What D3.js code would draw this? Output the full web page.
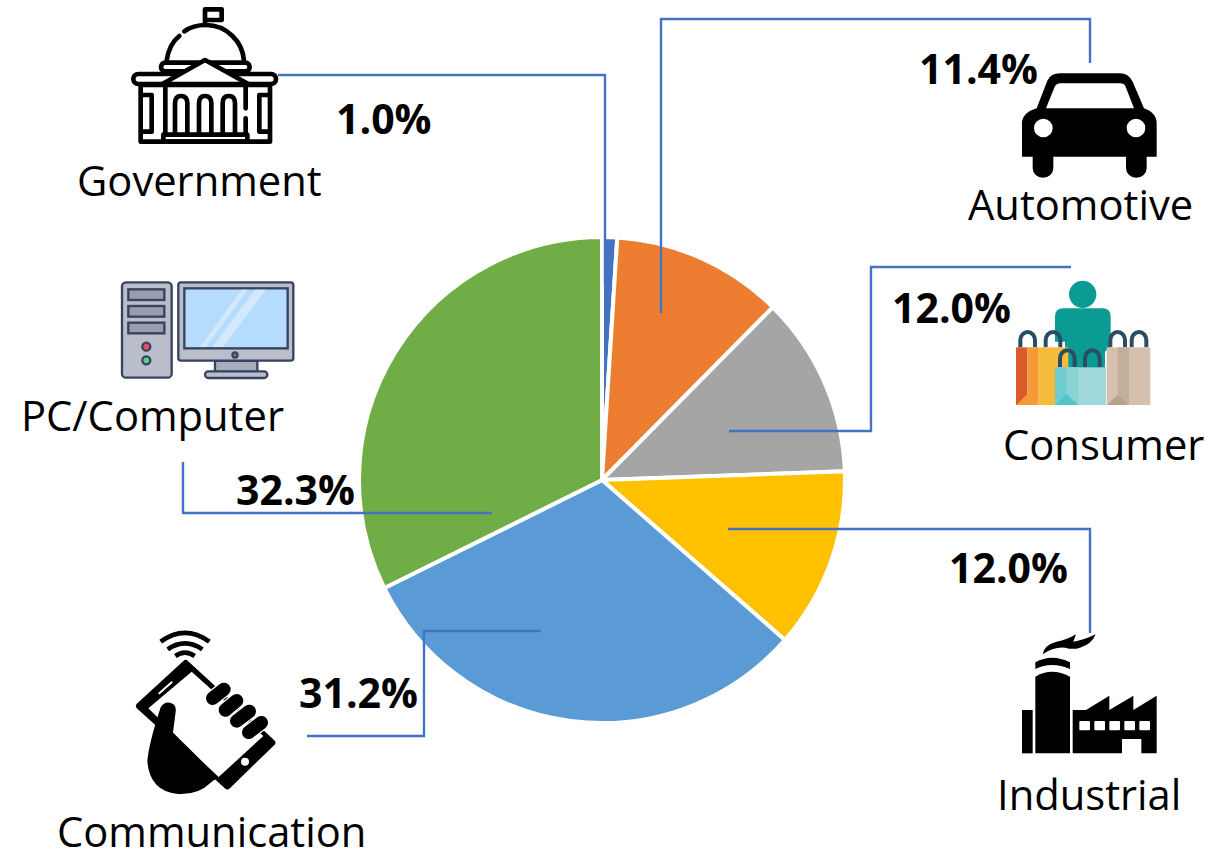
<!DOCTYPE html>
<html><head><meta charset="utf-8">
<script src="https://cdn.jsdelivr.net/npm/d3@7"></script>
<style>html,body{margin:0;background:#fff}svg{display:block}text{font-family:"Open Sans",sans-serif;fill:#000}</style>
</head><body><svg id="c" width="1222" height="852"></svg>
<script>
const categories=["Government","Automotive","Consumer","Industrial","Communication","PC/Computer"];
const shares=[1.0,11.4,12.0,12.0,31.2,32.3];
const shareLabels=["1.0%","11.4%","12.0%","12.0%","31.2%","32.3%"];
const colours=["#4472c4","#ed7d31","#a5a5a5","#ffc000","#5b9bd5","#70ad47"];
const nameAt=[[77,196],[968,220],[1003,460],[997,810],[57,847],[21,431]];
const shareAt=[[336,134],[919,84],[892,323],[949,583],[299,708],[236,505]];
const leaders=[
 [[278,75],[605,75],[605,285]],
 [[661,313],[661,19],[1090,19],[1090,63]],
 [[729,431],[871,431],[871,267],[1071,267]],
 [[728,529],[1090,529],[1090,633]],
 [[541,631],[424,631],[424,736],[307,736]],
 [[492,513],[183,513],[183,462]]];
const svg=d3.select("#c");
const pie=d3.pie().sort(null).value(d=>d)(shares);
const arc=d3.arc().innerRadius(0).outerRadius(243);
svg.append("g").attr("transform","translate(602,480)").selectAll("path").data(pie).join("path")
 .attr("d",arc).attr("fill",(d,i)=>colours[i]).attr("stroke","#fff").attr("stroke-width",4).attr("stroke-linejoin","round");
const line=d3.line();
svg.append("g").selectAll("path").data(leaders).join("path").attr("d",line).attr("fill","none").attr("stroke","#4472c4").attr("stroke-width",2.4);
svg.append("g").selectAll("text").data(categories).join("text").text(d=>d)
 .attr("x",(d,i)=>nameAt[i][0]).attr("y",(d,i)=>nameAt[i][1]).attr("font-size",41.7);
svg.append("g").selectAll("text").data(shareLabels).join("text").text(d=>d)
 .attr("x",(d,i)=>shareAt[i][0]).attr("y",(d,i)=>shareAt[i][1]).attr("font-size",41).attr("font-weight",700);

function icon(x,y){return svg.append("g").attr("transform",`translate(${x},${y}) scale(${1/3})`);}
function add(g,tag,attrs){const e=g.append(tag);Object.entries(attrs).forEach(([k,v])=>e.attr(k,v));return e;}
// Government
{const g=icon(100,0);const s={fill:"none",stroke:"#000","stroke-width":14,"stroke-linecap":"round","stroke-linejoin":"round"};
 add(g,"path",{...s,d:"M315 75V28H365V60H318"});
 add(g,"path",{...s,d:"M200 182C205 145 220 122 238 108M253 94C275 78 300 75 318 75C380 75 428 125 432 182"});
 add(g,"rect",{...s,x:183,y:188,width:266,height:26,rx:13,fill:"#fff"});
 add(g,"rect",{...s,x:100,y:222,width:428,height:30,rx:15,fill:"#fff"});
 add(g,"rect",{...s,x:122,y:255,width:388,height:170,fill:"#fff"});
 add(g,"path",{...s,d:"M187 252L315 180L445 252Z",fill:"#fff"});
 add(g,"path",{...s,d:"M196 258V405M437 258V325M437 355V405"});
 add(g,"path",{...s,d:"M125 285H155V395H125M507 285H478V395H507"});
 ["M225 400V310Q225 288 243 288Q262 288 262 310V400","M297 400V310Q297 288 315 288Q334 288 334 310V400","M368 400V310Q368 288 386 288Q405 288 405 310V400"].forEach(d=>add(g,"path",{...s,d}));
 add(g,"path",{...s,d:"M190 404H442V425H190Z"});}
// PC
{const g=icon(100,270),st="#37435f";const s={stroke:st,"stroke-width":7};
 add(g,"rect",{...s,x:66,y:37,width:149,height:286,rx:12,fill:"#babdca"});
 [58,108,158].forEach(y=>add(g,"rect",{...s,x:85,y,width:108,height:32,fill:"#9a9dae"}));
 add(g,"circle",{...s,cx:139,cy:230,r:12,fill:"#ef4a5a"});
 add(g,"circle",{...s,cx:139,cy:271,r:12,fill:"#5fd08c"});
 add(g,"rect",{...s,x:345,y:272,width:127,height:34,fill:"#a9acbc"});
 add(g,"rect",{...s,x:315,y:304,width:187,height:20,rx:10,fill:"#babdca"});
 add(g,"rect",{...s,x:235,y:37,width:345,height:235,rx:8,fill:"#babdca"});
 add(g,"rect",{...s,x:253,y:55,width:310,height:180,fill:"#b5dcfd"});
 add(g,"path",{d:"M425 59H443L318 231H300Z",fill:"#d2e9fd"});
 add(g,"path",{d:"M465 59H498L370 231H337Z",fill:"#d2e9fd"});
 add(g,"circle",{cx:405,cy:255,r:8,fill:"#6b7288",stroke:st,"stroke-width":6});}
// Communication
{const g=icon(120,620);
 add(g,"path",{d:"M197 130L456 368L322 498L58 258Z",fill:"#000",stroke:"#000","stroke-width":20,"stroke-linejoin":"round"});
 add(g,"path",{d:"M215 155L430 348L295 472L85 265Z",fill:"#fff"});
 add(g,"path",{d:"M118 220L155 187",stroke:"#fff","stroke-width":6,"stroke-linecap":"round"});
 add(g,"circle",{cx:375,cy:425,r:12,fill:"#fff"});
 [[278,235,312,208],[316,270,350,242],[350,303,388,274],[386,337,424,308]].forEach(([a,b,c,d])=>{
  add(g,"line",{x1:a,y1:b,x2:c,y2:d,stroke:"#fff","stroke-width":48,"stroke-linecap":"round"});
 });
 [[278,235,312,208],[316,270,350,242],[350,303,388,274],[386,337,424,308]].forEach(([a,b,c,d])=>{
  add(g,"line",{x1:a,y1:b,x2:c,y2:d,stroke:"#000","stroke-width":40,"stroke-linecap":"round"});});
 add(g,"path",{d:"M122 262Q132 245 150 248Q170 252 167 275L158 345L295 470L270 490Q235 525 175 522Q90 515 82 425Q85 375 122 262Z",fill:"#000"});
 add(g,"path",{d:"M122 65Q195 12 268 65M143 88Q195 52 247 88M166 108Q195 88 224 108",fill:"none",stroke:"#000","stroke-width":14});}
// Automotive
{const g=icon(1010,60);
 add(g,"path",{d:"M36 290V190Q36 158 80 145L112 62Q122 40 150 40H330Q355 40 368 65L402 145Q440 158 440 190V290H410V325A31 28 0 0 1 348 325V290H130V325A31 28 0 0 1 68 325V290Z",fill:"#000"});
 add(g,"path",{d:"M108 145L135 78Q140 70 150 70H330Q342 70 346 78L372 145Z",fill:"#fff"});
 add(g,"circle",{cx:100,cy:204,r:28,fill:"#fff"});
 add(g,"circle",{cx:378,cy:204,r:28,fill:"#fff"});}
// Consumer
{const g=icon(1005,275),h={fill:"none",stroke:"#2a4d63","stroke-width":12};
 add(g,"circle",{cx:233,cy:58,r:41,fill:"#0a9b94"});
 add(g,"path",{d:"M150 125Q150 100 175 100H292Q317 100 317 125V215L300 230V280H180V200H150Z",fill:"#0a9b94"});
 ["M46 217V195A22 24 0 0 1 90 195V217","M122 217V195A22 24 0 0 1 166 195V217","M316 217V195A22 24 0 0 1 360 195V217","M380 217V195A22 24 0 0 1 424 195V217"].forEach(d=>add(g,"path",{...h,d}));
 add(g,"rect",{x:33,y:217,width:34,height:173,fill:"#d95b2b"});
 add(g,"rect",{x:67,y:217,width:34,height:173,fill:"#f59a36"});
 add(g,"rect",{x:101,y:217,width:89,height:173,fill:"#f4bc3a"});
 add(g,"path",{d:"M33 390L67 358L101 390Z",fill:"#f59a36"});
 add(g,"rect",{x:305,y:217,width:131,height:173,fill:"#d4c0ac"});
 add(g,"rect",{x:338,y:217,width:34,height:173,fill:"#c3ae99"});
 add(g,"path",{d:"M305 390L338 360L372 390Z",fill:"#b5a08c"});
 add(g,"path",{...h,d:"M165 277V250A22 24 0 0 1 209 250V277"});
 add(g,"path",{...h,d:"M240 277V250A22 24 0 0 1 284 250V277"});
 add(g,"rect",{x:150,y:277,width:153,height:113,fill:"#9fd9dc"});
 add(g,"rect",{x:150,y:277,width:35,height:113,fill:"#6fcdd1"});
 add(g,"rect",{x:185,y:277,width:35,height:113,fill:"#88d3d6"});
 add(g,"path",{d:"M150 390L185 358L220 390Z",fill:"#4fc4c9"});}
// Industrial
{const g=icon(1010,625);
 add(g,"path",{d:"M98 88Q102 60 140 50Q170 45 198 28L190 50Q215 48 257 28Q245 58 210 68Q190 75 165 68Q130 65 98 88Z",fill:"#000"});
 add(g,"path",{d:"M76 132V112Q125 85 180 112V132Q125 108 76 132Z",fill:"#000"});
 add(g,"path",{d:"M76 385V155Q125 125 180 155V385Z",fill:"#000"});
 add(g,"rect",{x:36,y:255,width:32,height:130,fill:"#000"});
 add(g,"path",{d:"M188 385V255H228L298 212V255L370 212V255L440 212V385H394V342H336V385Z",fill:"#000"});
 [208,253,298,343,388].forEach(x=>add(g,"rect",{x,y:288,width:32,height:28,rx:3,fill:"#fff"}));}
</script></body></html>
